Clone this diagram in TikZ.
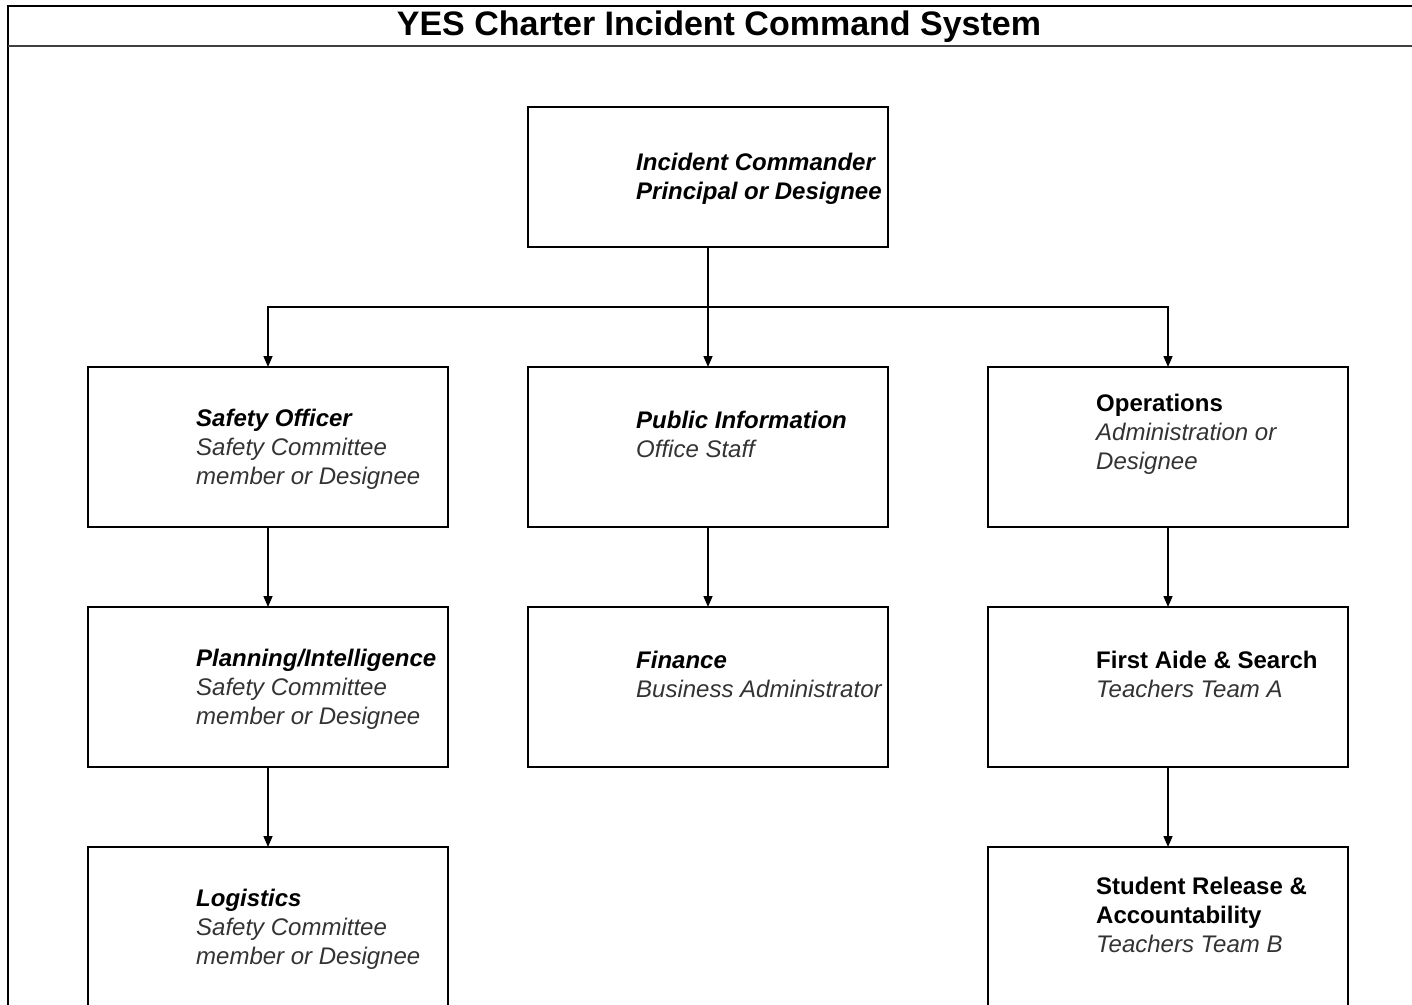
\documentclass[tikz,border=0pt]{standalone}
\usepackage{fontspec}
\setmainfont{Liberation Sans}
\usetikzlibrary{positioning,arrows.meta}

\tikzset{
  unit/.style={draw,line width=1.5pt,minimum width=360pt,minimum height=160pt,inner sep=0pt,outer sep=0pt},
  txt/.style={anchor=west,align=left,inner sep=0pt,font=\fontsize{24}{29}\selectfont},
  link/.style={line width=1.5pt,-{Triangle[length=11pt,width=9pt]}}
}
\newcommand{\head}[1]{\textbf{\textit{#1}}}
\newcommand{\upr}[1]{\textbf{#1}}
\newcommand{\who}[1]{{\color{black!80}\itshape #1}}

\begin{document}
\begin{tikzpicture}[x=1pt,y=1pt]
  \def\pad{108pt}
  \def\full{-2pt}
  \def\half{12.5pt}
  \useasboundingbox (0,0) rectangle (1412,-1004);

  % frame and title
  \draw[line width=2pt] (1430,-6) -- (8,-6) -- (8,-1010);
  \draw[line width=2.5pt,black!75] (8,-46) -- (1430,-46);
  \node[font=\fontsize{34}{40}\selectfont\bfseries] (title) at (719,-27) {YES Charter Incident Command System};

  % boxes
  \node[unit,minimum height=140pt] (ic) at (708,-177) {};
  \node[unit,below=120pt of ic] (pubinfo) {};
  \node[unit,left=80pt of pubinfo] (safety) {};
  \node[unit,right=100pt of pubinfo] (ops) {};
  \node[unit,below=80pt of safety] (planning) {};
  \node[unit,below=80pt of planning] (logistics) {};
  \node[unit,below=80pt of pubinfo] (finance) {};
  \node[unit,below=80pt of ops] (firstaid) {};
  \node[unit,below=80pt of firstaid] (release) {};

  % texts
  \node[txt] (ic-txt) at ([xshift=\pad,yshift=\full]ic.west) {\head{Incident Commander}\\\head{Principal or Designee}};
  \node[txt] (safety-txt) at ([xshift=\pad,yshift=\full]safety.west) {\head{Safety Officer}\\\who{Safety Committee}\\\who{member or Designee}};
  \node[txt] (pubinfo-txt) at ([xshift=\pad,yshift=\half]pubinfo.west) {\head{Public Information}\\\who{Office Staff}};
  \node[txt] (ops-txt) at ([xshift=\pad,yshift=\half]ops.west) {\upr{Operations}\\\who{Administration or}\\\who{Designee}};
  \node[txt] (planning-txt) at ([xshift=\pad,yshift=\full]planning.west) {\head{Planning/Intelligence}\\\who{Safety Committee}\\\who{member or Designee}};
  \node[txt] (finance-txt) at ([xshift=\pad,yshift=\half]finance.west) {\head{Finance}\\\who{Business Administrator}};
  \node[txt] (firstaid-txt) at ([xshift=\pad,yshift=\half]firstaid.west) {\upr{First Aide \& Search}\\\who{Teachers Team A}};
  \node[txt] (logistics-txt) at ([xshift=\pad,yshift=\full]logistics.west) {\head{Logistics}\\\who{Safety Committee}\\\who{member or Designee}};
  \node[txt] (release-txt) at ([xshift=\pad,yshift=\half]release.west) {\upr{Student Release \&}\\\upr{Accountability}\\\who{Teachers Team B}};

  % connectors
  \coordinate (bus) at (708,-307);
  \draw[link] (ic) -- (pubinfo);
  \draw[link] (bus) -| (safety);
  \draw[link] (bus) -| (ops);
  \draw[link] (safety) -- (planning);
  \draw[link] (planning) -- (logistics);
  \draw[link] (pubinfo) -- (finance);
  \draw[link] (ops) -- (firstaid);
  \draw[link] (firstaid) -- (release);
\end{tikzpicture}
\end{document}
